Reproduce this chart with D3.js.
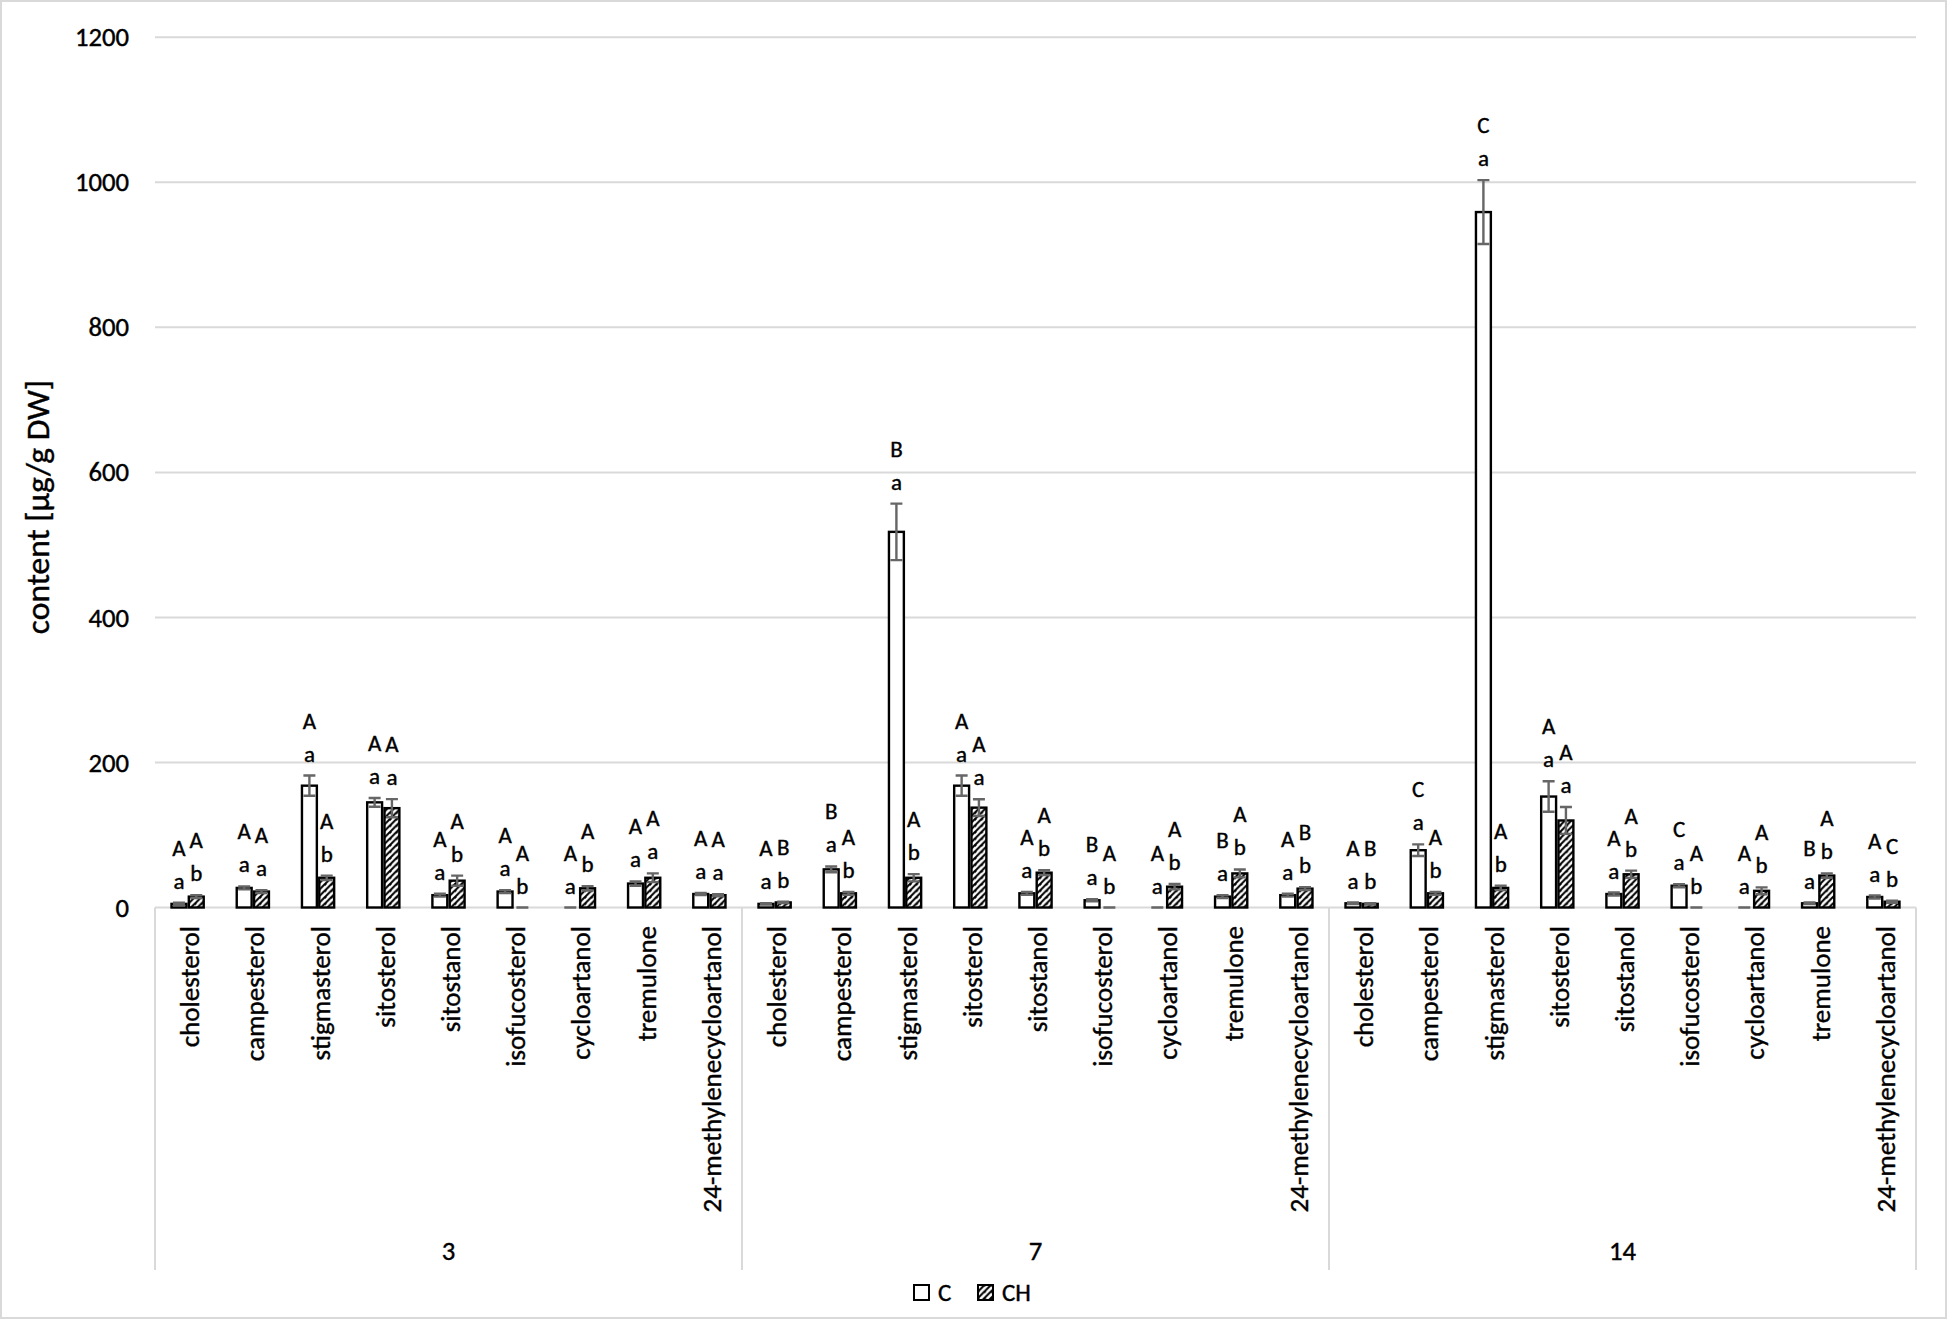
<!DOCTYPE html>
<html>
<head>
<meta charset="utf-8">
<script src="https://cdn.jsdelivr.net/npm/d3@7"></script>
<style>
  html, body { margin: 0; padding: 0; background: #fff; }
  svg { display: block; font-family: Carlito, Calibri, Lato, "Open Sans", sans-serif; }
  svg text { stroke: #000; stroke-width: 0.4; }
  .grid { stroke: #d9d9d9; stroke-width: 2; }
  .frame { stroke: #d9d9d9; stroke-width: 2; fill: none; }
  .tick-text { font-size: 26.7px; fill: #000; }
  .cat-text { font-size: 27px; fill: #000; }
  .day-text { font-size: 26.7px; fill: #000; }
  .sig-text { font-size: 23px; fill: #000; }
  .axis-title { font-size: 33.5px; fill: #000; }
  .legend-text { font-size: 25px; fill: #000; }
  .bar { stroke: #000; stroke-width: 2.4; }
  .err { stroke: #666; stroke-width: 2.4; fill: none; }
</style>
</head>
<body>
<svg id="chart" width="1947" height="1319"></svg>
<script>
const DAYS = ["3", "7", "14"];
const COMPOUNDS = [
  "cholesterol", "campesterol", "stigmasterol", "sitosterol", "sitostanol",
  "isofucosterol", "cycloartanol", "tremulone", "24-methylenecycloartanol"
];
const SERIES = ["C", "CH"];
const Y_TICKS = [0, 200, 400, 600, 800, 1000, 1200];

// values read per day, in COMPOUNDS order
const C_VALUES = [
  [5, 27, 168, 145, 17, 22, 0, 33, 18.6],
  [5, 52.6, 518, 168, 19.6, 10, 0, 15, 17],
  [5.8, 79, 959, 153, 18.6, 30, 0, 5.8, 14.5]
];
const CH_VALUES = [
  [15, 22, 41, 137, 37, 0, 26.5, 41, 17],
  [7, 19.6, 41, 137.7, 48, 0, 28.7, 47, 26],
  [5, 19.6, 27, 120, 45.8, 0, 23, 44, 8]
];
const C_ERRORS = [
  [1.5, 2, 14, 6, 2, 2, 0, 3, 1.5],
  [1, 4, 39, 14, 2, 1.5, 0, 2, 2],
  [1, 8, 44, 21, 2, 2, 0, 1, 2]
];
const CH_ERRORS = [
  [2, 2, 3, 12.5, 7, 0, 3, 6, 1.5],
  [1, 2, 5, 11.5, 3.3, 0, 3.7, 5.5, 2],
  [1, 2, 3, 18.5, 5, 0, 4.7, 3, 1.5]
];
// significance letters: upper = between days, lower = between treatments
const C_UPPER = [
  ["A", "A", "A", "A", "A", "A", "A", "A", "A"],
  ["A", "B", "B", "A", "A", "B", "A", "B", "A"],
  ["A", "C", "C", "A", "A", "C", "A", "B", "A"]
];
const C_LOWER = [
  ["a", "a", "a", "a", "a", "a", "a", "a", "a"],
  ["a", "a", "a", "a", "a", "a", "a", "a", "a"],
  ["a", "a", "a", "a", "a", "a", "a", "a", "a"]
];
const CH_UPPER = [
  ["A", "A", "A", "A", "A", "A", "A", "A", "A"],
  ["B", "A", "A", "A", "A", "A", "A", "A", "B"],
  ["B", "A", "A", "A", "A", "A", "A", "A", "C"]
];
const CH_LOWER = [
  ["b", "a", "b", "a", "b", "b", "b", "a", "a"],
  ["b", "b", "b", "a", "b", "b", "b", "b", "b"],
  ["b", "b", "b", "a", "b", "b", "b", "b", "b"]
];

const width = 1947;
const height = 1319;
const plotLeft = 155;
const plotRight = 1916;
const plotTop = 37.3;
const plotBottom = 907.5;
const axisBoxBottom = 1270;

const svg = d3.select("#chart");

const defs = svg.append("defs");
const hatch = defs.append("pattern")
  .attr("id", "hatch")
  .attr("patternUnits", "userSpaceOnUse")
  .attr("width", 6.5)
  .attr("height", 6.5);
hatch.append("rect").attr("width", 6.5).attr("height", 6.5).attr("fill", "#fff");
hatch.append("path")
  .attr("d", "M-1,1.5 l2.5,-2.5 M0,6.5 l6.5,-6.5 M5,8 l2.5,-2.5")
  .attr("stroke", "#000")
  .attr("stroke-width", 2.1);

// flatten into one row per bar
const rows = [];
DAYS.forEach((day, di) => {
  COMPOUNDS.forEach((name, ci) => {
    const key = `${day}|${name}`;
    rows.push({ key, day, name, series: "C", value: C_VALUES[di][ci], err: C_ERRORS[di][ci], upper: C_UPPER[di][ci], lower: C_LOWER[di][ci] });
    rows.push({ key, day, name, series: "CH", value: CH_VALUES[di][ci], err: CH_ERRORS[di][ci], upper: CH_UPPER[di][ci], lower: CH_LOWER[di][ci] });
  });
});
const keys = DAYS.flatMap(day => COMPOUNDS.map(name => `${day}|${name}`));

const x = d3.scaleBand().domain(keys).range([plotLeft, plotRight]).padding(0);
const xInner = d3.scaleBand().domain(SERIES).range([0, x.bandwidth()]).paddingInner(0).paddingOuter(0.885);
const xDay = d3.scaleBand().domain(DAYS).range([plotLeft, plotRight]).padding(0);
const y = d3.scaleLinear().domain([0, 1200]).range([plotBottom, plotTop]);

// outer frame
svg.append("rect").attr("class", "frame")
  .attr("x", 1).attr("y", 1).attr("width", width - 2).attr("height", height - 2);

// gridlines + tick labels
svg.append("g").selectAll("line")
  .data(Y_TICKS.filter(d => d > 0))
  .join("line")
  .attr("class", "grid")
  .attr("x1", plotLeft).attr("x2", plotRight)
  .attr("y1", d => y(d)).attr("y2", d => y(d));

svg.append("g").selectAll("text")
  .data(Y_TICKS)
  .join("text")
  .attr("class", "tick-text")
  .attr("x", 129)
  .attr("y", d => y(d))
  .attr("dy", "0.34em")
  .attr("text-anchor", "end")
  .text(d => d);

svg.append("text")
  .attr("class", "axis-title")
  .attr("transform", "translate(49,507) rotate(-90)")
  .attr("text-anchor", "middle")
  .text("content [µg/g DW]");

// category axis box
const axisG = svg.append("g");
axisG.append("line").attr("class", "grid")
  .attr("x1", plotLeft).attr("x2", plotRight)
  .attr("y1", plotBottom).attr("y2", plotBottom);
axisG.selectAll(".sep")
  .data([...DAYS.map(d => xDay(d)), plotRight])
  .join("line")
  .attr("class", "grid sep")
  .attr("x1", d => d).attr("x2", d => d)
  .attr("y1", plotBottom).attr("y2", axisBoxBottom);

axisG.selectAll(".cat-text")
  .data(keys)
  .join("text")
  .attr("class", "cat-text")
  .attr("transform", d => `translate(${x(d) + x.bandwidth() / 2 + 2},926) rotate(-90)`)
  .attr("text-anchor", "end")
  .attr("dy", "0.35em")
  .text(d => d.split("|")[1]);

axisG.selectAll(".day-text")
  .data(DAYS)
  .join("text")
  .attr("class", "day-text")
  .attr("x", d => xDay(d) + xDay.bandwidth() / 2)
  .attr("y", 1260)
  .attr("text-anchor", "middle")
  .text(d => d);

// bars
const barX = d => x(d.key) + xInner(d.series);
const barMid = d => barX(d) + xInner.bandwidth() / 2;

svg.append("g").selectAll("rect")
  .data(rows.filter(d => d.value > 0))
  .join("rect")
  .attr("class", "bar")
  .attr("x", d => barX(d) + 1.2)
  .attr("width", xInner.bandwidth() - 2.4)
  .attr("y", d => y(d.value))
  .attr("height", d => y(0) - y(d.value))
  .attr("fill", d => d.series === "C" ? "#fff" : "url(#hatch)");

// error bars
const errG = svg.append("g").selectAll("g")
  .data(rows)
  .join("g");
errG.append("path")
  .attr("class", "err")
  .attr("d", d => {
    const m = barMid(d);
    const top = y(d.value + d.err);
    const bot = Math.min(y(d.value - d.err), y(0));
    return `M${m - 6},${top}H${m + 6}M${m},${top}V${bot}M${m - 6},${bot}H${m + 6}`;
  });

// significance letters
const sigG = svg.append("g").selectAll("g")
  .data(rows)
  .join("g")
  .attr("transform", d => `translate(${barMid(d)},${y(d.value + d.err) - 14})`);
sigG.append("text")
  .attr("class", "sig-text")
  .attr("text-anchor", "middle")
  .text(d => d.lower);
sigG.append("text")
  .attr("class", "sig-text")
  .attr("text-anchor", "middle")
  .attr("y", -33)
  .text(d => d.upper);

// legend
const legend = svg.append("g").attr("transform", "translate(914,1285)");
const legendItems = legend.selectAll("g")
  .data(SERIES)
  .join("g")
  .attr("transform", (d, i) => `translate(${i * 64},0)`);
legendItems.append("rect")
  .attr("width", 15).attr("height", 15)
  .attr("fill", d => d === "C" ? "#fff" : "url(#hatch)")
  .attr("stroke", "#000").attr("stroke-width", 2);
legendItems.append("text")
  .attr("class", "legend-text")
  .attr("x", 24)
  .attr("y", 16)
  .text(d => d);
</script>
</body>
</html>
